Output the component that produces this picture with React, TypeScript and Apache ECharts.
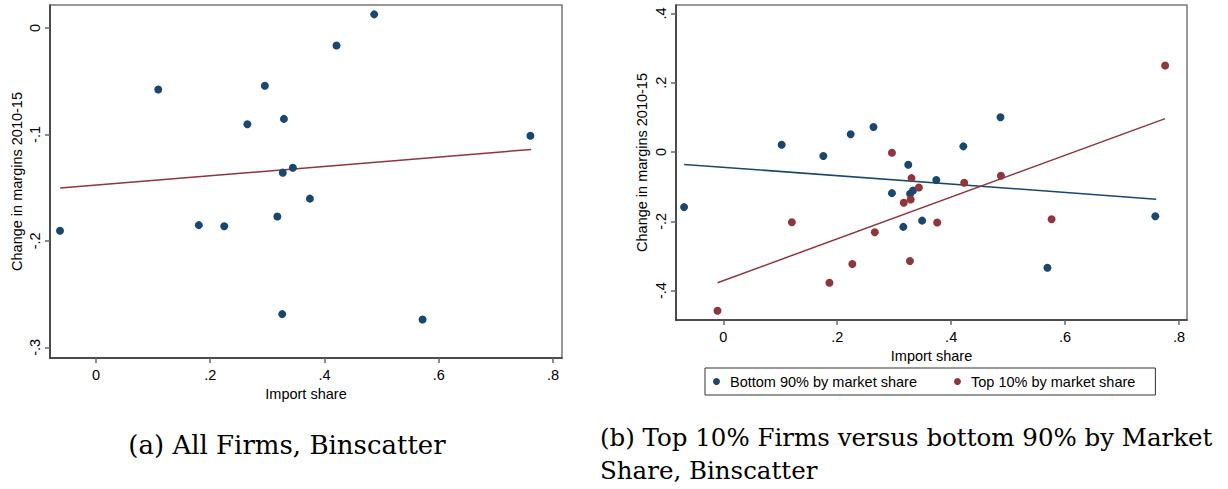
import React, { useEffect, useRef } from "react";
import * as echarts from "echarts";

// ---- Data ----
const xTicks = [0, 0.2, 0.4, 0.6, 0.8];
const yTicksA = [-0.3, -0.2, -0.1, 0];
const yTicksB = [-0.4, -0.2, 0, 0.2, 0.4];

// Panel (a): all firms binscatter
const allFirms: [number, number][] = [
  [-0.063, -0.1905],
  [0.109, -0.0577],
  [0.18, -0.1852],
  [0.2245, -0.1862],
  [0.265, -0.0904],
  [0.2956, -0.0543],
  [0.3175, -0.1771],
  [0.326, -0.2688],
  [0.327, -0.1359],
  [0.329, -0.0854],
  [0.3447, -0.1313],
  [0.3745, -0.1603],
  [0.421, -0.0165],
  [0.487, 0.0128],
  [0.5717, -0.2738],
  [0.7605, -0.1013],
];
const allFirmsFit: [number, number][] = [
  [-0.0627, -0.1503],
  [0.7618, -0.1141],
];

// Panel (b)
const bottom90: [number, number][] = [
  [-0.0688, -0.159],
  [0.1025, 0.0212],
  [0.1756, -0.0116],
  [0.2236, 0.0512],
  [0.2637, 0.0724],
  [0.296, -0.1187],
  [0.316, -0.2162],
  [0.3247, -0.0367],
  [0.328, -0.1207],
  [0.333, -0.111],
  [0.349, -0.198],
  [0.374, -0.081],
  [0.4214, 0.0164],
  [0.4866, 0.1004],
  [0.569, -0.334],
  [0.7584, -0.1853],
];
const top10: [number, number][] = [
  [-0.0101, -0.4585],
  [0.1204, -0.2027],
  [0.1863, -0.3774],
  [0.2265, -0.3234],
  [0.266, -0.2317],
  [0.296, -0.0019],
  [0.3168, -0.1467],
  [0.3276, -0.3147],
  [0.329, -0.137],
  [0.3304, -0.0753],
  [0.3433, -0.1023],
  [0.3755, -0.2037],
  [0.4229, -0.0888],
  [0.4874, -0.0685],
  [0.5763, -0.194],
  [0.7756, 0.25],
];
const bottom90Fit: [number, number][] = [
  [-0.0688, -0.0357],
  [0.7599, -0.1361],
];
const top10Fit: [number, number][] = [
  [-0.0101, -0.3774],
  [0.7756, 0.0965],
];

const seriesNames = ["Bottom 90% by market share", "Top 10% by market share"];
const xTitle = "Import share";
const yTitle = "Change in margins 2010-15";
const captionA = "(a) All Firms, Binscatter";
const captionB1 = "(b) Top 10% Firms versus bottom 90% by Market";
const captionB2 = "Share, Binscatter";

const NAVY = "#1a476f";
const MAROON = "#90353b";
const SANS = '"Liberation Sans", Arial, sans-serif';
const SERIF = '"DejaVu Serif", "Liberation Serif", serif';

const fmt = (v: number) => {
  if (Math.abs(v) < 1e-9) return "0";
  const s = String(Math.round(v * 10) / 10);
  return s.replace(/^(-?)0\./, "$1.");
};

function xAxis(gridIndex: number, min: number, max: number) {
  return {
    type: "value",
    gridIndex,
    min,
    max,
    name: xTitle,
    nameLocation: "middle",
    nameGap: 25,
    nameTextStyle: { fontFamily: SANS, fontSize: 14.5, color: "#000" },
    splitLine: { show: false },
    axisLine: { show: true, onZero: false, lineStyle: { color: "#333", width: 1.5 } },
    axisTick: { show: true, length: 5, customValues: xTicks, lineStyle: { color: "#666", width: 1.5 } },
    axisLabel: {
      customValues: xTicks,
      formatter: fmt,
      fontFamily: SANS,
      fontSize: 14.5,
      color: "#000",
      margin: 9,
    },
  };
}

function yAxis(gridIndex: number, min: number, max: number, ticks: number[], gap: number) {
  return {
    type: "value",
    gridIndex,
    min,
    max,
    name: yTitle,
    nameLocation: "middle",
    nameGap: gap,
    nameRotate: 90,
    nameTextStyle: { fontFamily: SANS, fontSize: 14.5, color: "#000" },
    splitLine: { show: false },
    axisLine: { show: true, onZero: false, lineStyle: { color: "#333", width: 1.5 } },
    axisTick: { show: true, length: 5, customValues: ticks, lineStyle: { color: "#666", width: 1.5 } },
    axisLabel: {
      customValues: ticks,
      formatter: fmt,
      rotate: 90,
      fontFamily: SANS,
      fontSize: 14.5,
      color: "#000",
      margin: 8,
    },
  };
}

export default function App() {
  const ref = useRef<HTMLDivElement>(null);
  useEffect(() => {
    if (!ref.current) return;
    const chart = echarts.init(ref.current, undefined, { renderer: "svg" });
    chart.setOption({
      animation: false,
      backgroundColor: "#fff",
      grid: [
        { left: 50, top: 5, width: 512, height: 353, show: true, borderColor: "#777", borderWidth: 1.5 },
        { left: 676, top: 5, width: 511, height: 315, show: true, borderColor: "#777", borderWidth: 1.5 },
      ],
      xAxis: [xAxis(0, -0.0805, 0.8158), xAxis(1, -0.083, 0.814)],
      yAxis: [
        yAxis(0, -0.31, 0.0216, yTicksA, 26),
        yAxis(1, -0.485, 0.4245, yTicksB, 27),
      ],
      legend: {
        data: seriesNames,
        left: 705,
        top: 368,
        orient: "horizontal",
        icon: "circle",
        itemWidth: 7,
        itemHeight: 7,
        itemGap: 37,
        borderColor: "#333",
        borderWidth: 1,
        borderRadius: 0,
        padding: [6, 20, 6, 8],
        textStyle: { fontFamily: SANS, fontSize: 14.5, color: "#000", padding: [0, 0, 0, 5] },
      },
      series: [
        {
          type: "line",
          xAxisIndex: 0,
          yAxisIndex: 0,
          data: allFirmsFit,
          symbol: "none",
          lineStyle: { color: MAROON, width: 1.5 },
          z: 2,
        },
        {
          type: "scatter",
          xAxisIndex: 0,
          yAxisIndex: 0,
          data: allFirms,
          symbolSize: 8,
          itemStyle: { color: NAVY, opacity: 1 },
          z: 3,
        },
        {
          name: seriesNames[0],
          type: "scatter",
          xAxisIndex: 1,
          yAxisIndex: 1,
          data: bottom90,
          symbolSize: 8,
          itemStyle: { color: NAVY, opacity: 1 },
          z: 3,
        },
        {
          name: seriesNames[1],
          type: "scatter",
          xAxisIndex: 1,
          yAxisIndex: 1,
          data: top10,
          symbolSize: 8,
          itemStyle: { color: MAROON, opacity: 1 },
          z: 3,
        },
        {
          type: "line",
          xAxisIndex: 1,
          yAxisIndex: 1,
          data: bottom90Fit,
          symbol: "none",
          lineStyle: { color: NAVY, width: 1.5 },
          z: 2,
        },
        {
          type: "line",
          xAxisIndex: 1,
          yAxisIndex: 1,
          data: top10Fit,
          symbol: "none",
          lineStyle: { color: MAROON, width: 1.5 },
          z: 2,
        },
      ],
      graphic: [
        {
          type: "text",
          x: 287,
          y: 445,
          style: {
            text: captionA,
            font: `26px ${SERIF}`,
            fill: "#000",
            align: "center",
            verticalAlign: "middle",
          },
        },
        {
          type: "text",
          x: 600,
          y: 437,
          style: {
            text: captionB1,
            font: `24.5px ${SERIF}`,
            fill: "#000",
            align: "left",
            verticalAlign: "middle",
          },
        },
        {
          type: "text",
          x: 600,
          y: 470,
          style: {
            text: captionB2,
            font: `24.5px ${SERIF}`,
            fill: "#000",
            align: "left",
            verticalAlign: "middle",
          },
        },
      ],
    });
    return () => chart.dispose();
  }, []);
  return (
    <div
      ref={ref}
      style={{ position: "absolute", left: 0, top: 0, width: 1228, height: 489, background: "#fff" }}
    />
  );
}
